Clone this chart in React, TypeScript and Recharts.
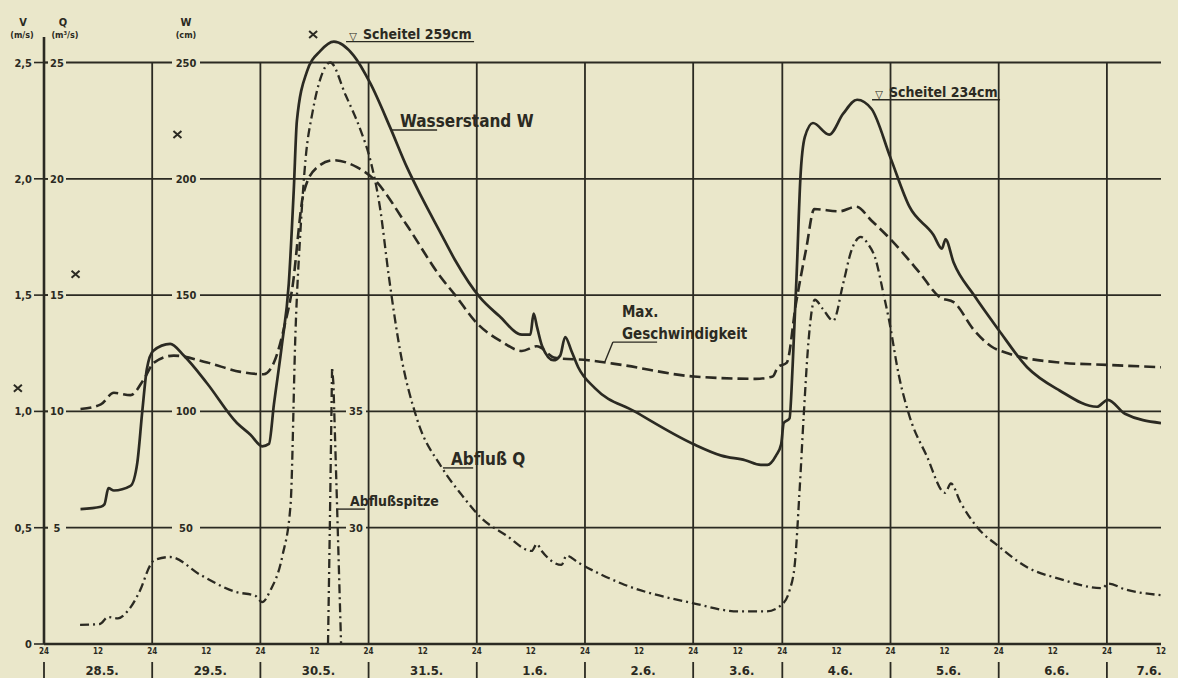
/**
 * Hochwasserganglinie 28.5.–7.6.: Wasserstand W, Abfluss Q, max. Geschwindigkeit v
 * gemeinsame y-Achse in m³/s (v * 10, W / 10)
 */
import { ComposedChart, Line, XAxis, YAxis, ReferenceLine, ReferenceDot } from "recharts";

// Zeit in Stunden ab 28.5., 0 Uhr
const wHours = [8.1, 12.6, 13.4, 14.3, 15.5, 19.2, 20.7, 21.8, 22.8, 24.2, 28, 31, 36.2, 42.8, 45.8, 48.4, 49.9, 51, 52.8, 54.3, 55.4, 56.1, 58.3, 61.3, 64.3, 68.7, 72.4, 76.8, 80.5, 83.8, 87.9, 91.2, 96.7, 101, 106, 107.9, 108.6, 109.4, 110.5, 113, 114.5, 115.6, 117, 118.5, 122.2, 131, 144, 151.6, 158, 162.2, 164, 166.3, 167.7, 168.3, 169.6, 170.3, 171.2, 172, 173, 174.8, 178.4, 181.5, 184.6, 187.8, 192, 196.2, 201.5, 203.4, 204.2, 206, 210.5, 216, 222.3, 229.5, 237.8, 240.2, 244, 252];
const wCm = [58, 59, 60, 67, 66, 68, 78, 100, 118, 126, 129, 124, 112, 95, 90, 85, 86, 103, 129, 155, 195, 225, 246, 255, 259, 253, 241, 222, 205, 192, 177, 165, 149, 141, 133, 133, 142, 136, 128, 122, 124, 132, 126, 119, 110, 100, 86, 81, 79, 77, 77, 81, 86, 95, 97, 120, 160, 200, 218, 224, 219, 228, 234, 230, 209, 188, 176, 170, 174, 164, 150, 135, 119, 109, 102, 105, 99, 95];

const vHours = [8.1, 12.6, 15.5, 19.2, 22.2, 24.4, 28.8, 36.2, 43.6, 48.7, 51, 53.5, 55, 57.6, 60.6, 64.3, 69.4, 73.1, 80.5, 87.9, 91.2, 96, 101.5, 106, 109.3, 113.4, 120.7, 128.1, 144.2, 160.8, 165.4, 166.8, 169, 171, 173.3, 175.1, 180.6, 184.4, 187.8, 192, 198.3, 203, 206, 210.5, 214.3, 218, 229.6, 240, 252];
const vMs = [1.01, 1.03, 1.08, 1.07, 1.14, 1.21, 1.24, 1.21, 1.17, 1.16, 1.21, 1.38, 1.52, 1.94, 2.05, 2.08, 2.05, 2.0, 1.8, 1.58, 1.5, 1.38, 1.3, 1.26, 1.28, 1.23, 1.22, 1.2, 1.15, 1.14, 1.15, 1.19, 1.21, 1.46, 1.7, 1.87, 1.86, 1.88, 1.82, 1.74, 1.6, 1.49, 1.47, 1.35, 1.28, 1.25, 1.21, 1.2, 1.19];

const qHours = [8, 12.4, 14.2, 16.4, 18.4, 21.3, 23.6, 24.4, 28, 34.7, 42.5, 46.9, 48.4, 50.2, 52.9, 54.7, 55.8, 56.9, 58, 59.6, 61.3, 63.5, 66.9, 70.2, 72.4, 74.5, 76.5, 79, 82.7, 88.2, 92.7, 97.1, 102.3, 108.2, 109.3, 110.4, 114.8, 115.9, 118.5, 128.1, 144.1, 156.2, 163.6, 167.7, 169.6, 170.8, 171.8, 172.8, 173.8, 175.2, 177, 179.3, 181.5, 183.3, 185.4, 187, 188.6, 190.5, 191.6, 193.9, 196.2, 200, 204.1, 205.4, 207.5, 211.3, 216, 222.3, 229.5, 239, 240.3, 244, 252];
const qM3s = [0.82, 0.86, 1.16, 1.1, 1.38, 2.3, 3.4, 3.6, 3.74, 2.97, 2.24, 2.07, 1.8, 2.3, 3.8, 6.0, 13.5, 17.8, 20.8, 22.9, 24.3, 25, 23.6, 22.1, 20.8, 18.8, 15.8, 12.6, 9.7, 7.6, 6.4, 5.4, 4.7, 4.0, 4.3, 4.0, 3.4, 3.8, 3.5, 2.6, 1.75, 1.4, 1.4, 1.67, 2.3, 3.5, 6.5, 10.0, 13.0, 14.8, 14.4, 13.9, 15.5, 16.9, 17.5, 17.2, 16.6, 15.0, 14.0, 11.5, 9.8, 8.1, 6.5, 6.9, 6.1, 5.0, 4.2, 3.3, 2.8, 2.4, 2.6, 2.35, 2.1];

// Abflussspitze (Nebenskala, beginnt bei 25 m³/s)
const peakHours = [63.0, 63.4, 63.9, 64.2, 65.0, 65.9];
const peakM3s = [25, 30, 36.9, 36.2, 31, 25];
const PEAK_BASE = 25;

// Einzelmessungen v (x)
const crossHours = [-5.8, 7.0, 29.6, 59.7];
const crossMs = [1.1, 1.59, 2.19, 2.62];

const dayLabels = ["28.5.", "29.5.", "30.5.", "31.5.", "1.6.", "2.6.", "3.6.", "4.6.", "5.6.", "6.6.", "7.6."];
const xTickHours = Array.from({ length: 22 }, (_, i) => i * 12);
const yLevels = [0, 5, 10, 15, 20, 25];
const vTicks = ["0", "0,5", "1,0", "1,5", "2,0", "2,5"];
const qTicks = ["", "5", "10", "15", "20", "25"];
const wTicks = ["", "50", "100", "150", "200", "250"];
const peakTicks = ["", "30", "35", "", "", ""];

// der 3.6. ist auf dem Blatt schmaler gezeichnet
const warp = (h: number) =>
  h <= 144 ? h : h <= 168 ? 144 + (h - 144) * 0.824 : 144 + 24 * 0.824 + (h - 168);

const pts = (hs: number[], vs: number[], f: (v: number) => number) =>
  hs.map((h, i) => ({ x: warp(h), y: f(vs[i]) }));

const wData = pts(wHours, wCm, (v) => v / 10);
const vData = pts(vHours, vMs, (v) => v * 10);
const qData = pts(qHours, qM3s, (v) => v);
const peakData = pts(peakHours, peakM3s, (v) => v - PEAK_BASE);

const INK = "#2b2a22";
const PAPER = "#eae7ca";
const FONT = "'DejaVu Sans Condensed', 'Liberation Sans Narrow', 'DejaVu Sans', sans-serif";
const W = 1178;
const H = 678;
const X_AXIS_H = 34;
const BASE_Y = H - X_AXIS_H;

function YTick({ y, payload }: any) {
  const i = yLevels.indexOf(payload.value);
  return (
    <g>
      <text x={32} y={y + 4} textAnchor="end" fontSize={11} fontFamily={FONT} fontWeight={700} fill={INK}>
        {vTicks[i]}
      </text>
      <line x1={34} x2={48} y1={y} y2={y} stroke={INK} strokeWidth={1.6} />
    </g>
  );
}

function XTick({ x, index }: any) {
  const h = xTickHours[index];
  const full = h % 24 === 0;
  const last = index === xTickHours.length - 1;
  return (
    <g fontFamily={FONT} fontWeight={700} fill={INK}>
      <text x={x} y={BASE_Y + 10} textAnchor="middle" fontSize={8}>{full ? "24" : "12"}</text>
      {full ? (
        <line x1={x} x2={x} y1={BASE_Y + 18} y2={H} stroke={INK} strokeWidth={1.8} />
      ) : (
        <text x={x + (last ? -12 : 4)} y={BASE_Y + 31} textAnchor="middle" fontSize={13}>
          {dayLabels[Math.floor(h / 24)]}
        </text>
      )}
    </g>
  );
}

// Skalenbeschriftung auf den waagrechten Linien (mit Lücke in der Linie)
const gridLabel = (k: number) => (p: any) => {
  const x0 = p?.viewBox?.x ?? 44;
  const y = p?.viewBox?.y ?? 0;
  const t = (x: number, s: string, bw: number) =>
    s ? (
      <g>
        <rect x={x - bw / 2} y={y - 5} width={bw} height={10} fill={PAPER} />
        <text x={x} y={y + 4} textAnchor="middle" fontSize={11} fontFamily={FONT} fontWeight={700} fill={INK}>{s}</text>
      </g>
    ) : null;
  return (
    <g>
      {t(x0 + 13, qTicks[k], 18)}
      {t(x0 + 142, wTicks[k], 28)}
      {t(x0 + 312, peakTicks[k], 20)}
    </g>
  );
};

const heads = () => (
  <g fontFamily={FONT} fontWeight={700} fill={INK} textAnchor="middle">
    <text x={23} y={26} fontSize={11}>V</text>
    <text x={22} y={38} fontSize={9}>(m/s)</text>
    <text x={63} y={26} fontSize={11}>Q</text>
    <text x={65} y={38} fontSize={9}>(m³/s)</text>
    <text x={186} y={26} fontSize={11}>W</text>
    <text x={186} y={38} fontSize={9}>(cm)</text>
  </g>
);

// Beschriftung über einer Unterstreichung
const note = (lines: string[], size: number, dx: number, mark = false) => (p: any) => {
  const x0 = p?.viewBox?.x ?? 0;
  const y = p?.viewBox?.y ?? 0;
  return (
    <g fontFamily={FONT} fontWeight={700} fill={INK}>
      {mark && <text x={x0 + 7} y={y - 2} fontSize={11} textAnchor="middle">▽</text>}
      {lines.map((s, i) => (
        <text key={s} x={x0 + dx} y={y - 3 - (lines.length - 1 - i) * (size + 7)} fontSize={size}>{s}</text>
      ))}
    </g>
  );
};

const cross = (p: any) => (
  <path
    d={`M${p.cx - 4},${p.cy - 3.5}L${p.cx + 4},${p.cy + 3.5}M${p.cx - 4},${p.cy + 3.5}L${p.cx + 4},${p.cy - 3.5}`}
    stroke={INK}
    strokeWidth={2}
  />
);

const seg = (h1: number, y1: number, h2: number, y2: number) => [
  { x: warp(h1), y: y1 },
  { x: warp(h2), y: y2 },
];

export default function App() {
  return (
    <div style={{ position: "absolute", left: 0, top: 0, width: W, height: H, background: PAPER }}>
      <ComposedChart width={W} height={H} margin={{ top: 16, right: 17, left: 0, bottom: 0 }}>
        <XAxis
          dataKey="x"
          type="number"
          domain={[0, warp(252)]}
          ticks={xTickHours.map(warp)}
          interval={0}
          allowDataOverflow
          tick={XTick}
          tickLine={false}
          axisLine={{ stroke: INK, strokeWidth: 2.6 }}
          height={X_AXIS_H}
        />
        <YAxis
          type="number"
          domain={[0, 27]}
          ticks={yLevels}
          interval={0}
          allowDataOverflow
          tick={YTick}
          tickLine={false}
          axisLine={false}
          width={44}
        />

        {yLevels.slice(1).map((lv, k) => (
          <ReferenceLine key={`h${lv}`} y={lv} stroke={INK} strokeWidth={1.8} label={gridLabel(k + 1)} />
        ))}
        {xTickHours.filter((h) => h > 0 && h % 24 === 0).map((h) => (
          <ReferenceLine key={`v${h}`} segment={seg(h, 0, h, 25)} stroke={INK} strokeWidth={1.8} ifOverflow="visible" />
        ))}
        <ReferenceLine segment={seg(0, 0, 0, 26.1)} stroke={INK} strokeWidth={2.6} ifOverflow="visible" label={heads} />

        <Line data={qData} dataKey="y" type="monotone" stroke={INK} strokeWidth={2.3} strokeDasharray="9 4 2 4" dot={false} activeDot={false} isAnimationActive={false} />
        <Line data={peakData} dataKey="y" type="linear" stroke={INK} strokeWidth={2.3} strokeDasharray="9 4 2 4" dot={false} activeDot={false} isAnimationActive={false} />
        <Line data={vData} dataKey="y" type="monotone" stroke={INK} strokeWidth={2.6} strokeDasharray="11 5" dot={false} activeDot={false} isAnimationActive={false} />
        <Line data={wData} dataKey="y" type="monotone" stroke={INK} strokeWidth={2.7} dot={false} activeDot={false} isAnimationActive={false} />

        {crossHours.map((h, i) => (
          <ReferenceDot key={`c${i}`} x={warp(h)} y={crossMs[i] * 10} r={4} shape={cross} ifOverflow="visible" />
        ))}

        <ReferenceLine segment={seg(67.0, 25.9, 95.4, 25.9)} stroke={INK} strokeWidth={1.4} ifOverflow="visible" label={note(["Scheitel 259cm"], 14, 17, true)} />
        <ReferenceLine segment={seg(187.9, 23.4, 216.3, 23.4)} stroke={INK} strokeWidth={1.4} ifOverflow="visible" label={note(["Scheitel 234cm"], 14, 17, true)} />
        <ReferenceLine segment={seg(77.2, 22.1, 87.2, 22.1)} stroke={INK} strokeWidth={1.4} ifOverflow="visible" label={note(["Wasserstand W"], 17, 8)} />
        <ReferenceLine segment={seg(124.4, 12.12, 126.2, 12.98)} stroke={INK} strokeWidth={1.4} ifOverflow="visible" />
        <ReferenceLine segment={seg(126.2, 12.98, 136.0, 12.98)} stroke={INK} strokeWidth={1.4} ifOverflow="visible" label={note(["Max.", "Geschwindigkeit"], 15, 9)} />
        <ReferenceLine segment={seg(88.5, 7.57, 95.2, 7.57)} stroke={INK} strokeWidth={1.4} ifOverflow="visible" label={note(["Abfluß   Q"], 17, 8)} />
        <ReferenceLine segment={seg(65.2, 5.8, 71.2, 5.8)} stroke={INK} strokeWidth={1.4} ifOverflow="visible" label={note(["Abflußspitze"], 14, 12)} />
      </ComposedChart>
    </div>
  );
}
